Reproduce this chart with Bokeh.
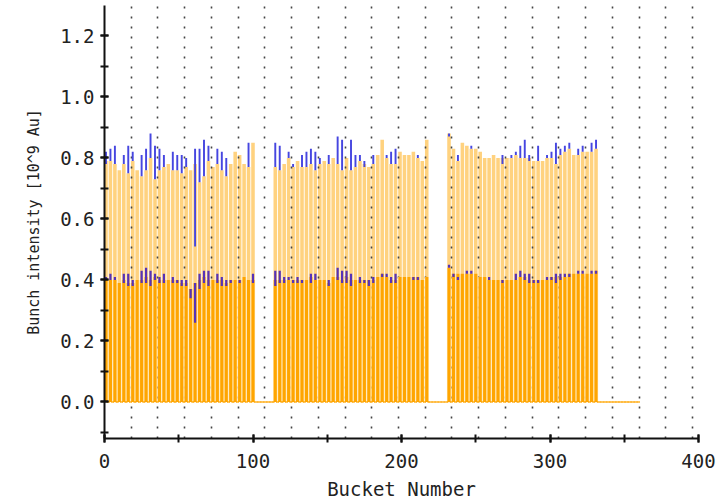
import math
from bokeh.plotting import figure
from bokeh.models import SingleIntervalTicker, PrintfTickFormatter, ColumnDataSource
from bokeh.embed import file_html
from bokeh.resources import INLINE

N_BUCKETS = 360

# bunch positions (bucket numbers) of the three trains
train1_buckets = list(range(1, 101, 3))     # 34 bunches
train2_buckets = list(range(115, 218, 3))   # 35 bunches
train3_buckets = list(range(232, 332, 3))   # 34 bunches

# ---- upper ring (light bars ~0.8) ----
upper_top_1 = [0.79, 0.79, 0.78, 0.76, 0.78, 0.75, 0.79, 0.76, 0.74, 0.76,
               0.80, 0.73, 0.76, 0.77, 0.78, 0.76, 0.76, 0.75, 0.77, 0.76,
               0.78, 0.72, 0.74, 0.79, 0.77, 0.78, 0.76, 0.74, 0.78, 0.82,
               0.81, 0.78, 0.77, 0.85]
upper_lo_1 = [0.78, 0.79, 0.78, None, 0.78, 0.75, 0.79, None, 0.74, 0.76,
              0.80, 0.73, 0.76, 0.77, None, 0.76, 0.76, 0.75, 0.77, None,
              0.51, 0.72, 0.74, 0.79, None, 0.78, 0.76, 0.74, None, None,
              None, None, 0.77, None]
upper_hi_1 = [0.82, 0.83, 0.84, None, 0.81, 0.84, 0.82, None, 0.81, 0.83,
              0.88, 0.84, 0.83, 0.81, None, 0.82, 0.81, 0.81, 0.80, None,
              0.83, 0.83, 0.86, 0.84, None, 0.83, 0.82, 0.80, None, None,
              None, None, 0.85, None]

upper_top_2 = [0.77, 0.76, 0.78, 0.80, 0.77, 0.79, 0.77, 0.77, 0.78, 0.76,
               0.78, 0.79, 0.78, 0.80, 0.78, 0.76, 0.80, 0.76, 0.77, 0.79,
               0.78, 0.77, 0.78, 0.81, 0.86, 0.80, 0.78, 0.78, 0.82, 0.81,
               0.81, 0.82, 0.80, 0.79, 0.86]
upper_lo_2 = [0.77, 0.76, None, 0.80, 0.77, None, 0.77, 0.77, 0.78, 0.76,
              0.78, None, 0.78, None, 0.78, 0.76, None, 0.76, 0.77, 0.79,
              0.77, None, 0.78, None, None, 0.80, 0.78, 0.78, None, None,
              None, None, 0.80, None, None]
upper_hi_2 = [0.85, 0.84, None, 0.82, 0.78, None, 0.81, 0.82, 0.83, 0.82,
              0.80, None, 0.81, None, 0.87, 0.86, None, 0.86, 0.81, 0.81,
              0.79, None, 0.81, None, None, 0.81, 0.82, 0.83, None, None,
              None, None, 0.81, None, None]

upper_top_3 = [0.88, 0.83, 0.79, 0.85, 0.84, 0.83, 0.83, 0.82, 0.80, 0.80,
               0.81, 0.80, 0.80, 0.80, 0.80, 0.81, 0.80, 0.80, 0.80, 0.79,
               0.79, 0.79, 0.80, 0.80, 0.78, 0.81, 0.82, 0.83, 0.81, 0.81,
               0.82, 0.82, 0.82, 0.83]
upper_lo_3 = [0.87, None, 0.79, None, None, 0.83, None, None, None, None,
              None, None, 0.78, None, 0.80, 0.81, 0.80, 0.80, 0.79, None,
              0.79, None, 0.80, 0.80, 0.78, 0.81, 0.82, 0.83, None, 0.81,
              0.82, None, 0.82, 0.83]
upper_hi_3 = [0.88, None, 0.81, None, None, 0.84, None, None, None, None,
              None, None, 0.81, None, 0.81, 0.82, 0.84, 0.86, 0.81, None,
              0.84, None, 0.81, 0.82, 0.85, 0.83, 0.84, 0.85, None, 0.83,
              0.84, None, 0.85, 0.86]

# ---- lower ring (dark bars ~0.4) ----
lower_top_1 = [0.40, 0.40, 0.40, 0.39, 0.40, 0.39, 0.39, 0.40, 0.40, 0.41,
               0.40, 0.41, 0.40, 0.40, 0.40, 0.40, 0.40, 0.39, 0.39, 0.37,
               0.39, 0.40, 0.41, 0.40, 0.40, 0.40, 0.40, 0.39, 0.40, 0.40,
               0.40, 0.41, 0.40, 0.40]
lower_lo_1 = [0.40, 0.40, 0.40, None, 0.39, 0.38, 0.38, None, 0.39, 0.39,
              0.38, 0.40, 0.39, 0.39, None, 0.39, 0.39, 0.38, 0.38, 0.34,
              0.26, 0.37, 0.39, 0.38, None, 0.39, 0.38, 0.38, 0.39, None,
              0.39, None, None, 0.39]
lower_hi_1 = [0.41, 0.42, 0.41, None, 0.42, 0.42, 0.40, None, 0.43, 0.44,
              0.43, 0.42, 0.41, 0.42, None, 0.41, 0.40, 0.40, 0.40, 0.37,
              0.39, 0.42, 0.43, 0.43, None, 0.42, 0.41, 0.40, 0.40, None,
              0.40, None, None, 0.42]

lower_top_2 = [0.40, 0.40, 0.40, 0.40, 0.40, 0.40, 0.40, 0.40, 0.41, 0.40,
               0.40, 0.40, 0.39, 0.41, 0.41, 0.40, 0.41, 0.40, 0.40, 0.40,
               0.40, 0.40, 0.40, 0.41, 0.42, 0.41, 0.40, 0.40, 0.41, 0.41,
               0.41, 0.41, 0.41, 0.40, 0.41]
lower_lo_2 = [0.38, 0.39, 0.39, 0.40, 0.39, 0.39, 0.39, None, 0.39, 0.40,
              None, None, 0.38, None, 0.40, 0.39, 0.39, 0.38, None, 0.39,
              0.39, 0.38, 0.39, None, 0.41, 0.41, 0.39, 0.39, None, None,
              None, 0.40, 0.40, None, None]
lower_hi_2 = [0.43, 0.43, 0.41, 0.41, 0.40, 0.41, 0.40, None, 0.42, 0.42,
              None, None, 0.40, None, 0.44, 0.43, 0.43, 0.42, None, 0.41,
              0.40, 0.40, 0.41, None, 0.42, 0.42, 0.41, 0.42, None, None,
              None, 0.41, 0.41, None, None]

lower_top_3 = [0.44, 0.42, 0.42, 0.42, 0.42, 0.42, 0.42, 0.41, 0.41, 0.40,
               0.40, 0.40, 0.40, 0.40, 0.40, 0.40, 0.41, 0.41, 0.40, 0.40,
               0.40, 0.40, 0.40, 0.41, 0.41, 0.41, 0.41, 0.42, 0.42, 0.42,
               0.42, 0.42, 0.42, 0.43]
lower_lo_3 = [0.44, 0.41, 0.40, None, 0.42, 0.42, None, None, None, 0.40,
              None, None, 0.39, None, None, 0.40, 0.41, 0.40, 0.39, 0.39,
              0.39, None, 0.40, 0.40, 0.39, 0.40, 0.41, 0.41, None, 0.42,
              0.42, None, 0.42, 0.42]
lower_hi_3 = [0.45, 0.42, 0.41, None, 0.43, 0.43, None, None, None, 0.41,
              None, None, 0.40, None, None, 0.42, 0.43, 0.42, 0.42, 0.40,
              0.40, None, 0.41, 0.41, 0.42, 0.42, 0.42, 0.42, None, 0.43,
              0.43, None, 0.43, 0.43]

x_ticks_interval = 100
y_ticks_interval = 0.2

LIGHT = "#FFD27F"
PALE = "#FFE2A6"
DARK = "#FFA500"
BLUE = "#4646E0"
PURPLE = "#5632B8"
FONT = "DejaVu Sans Mono"


def nz(lst):
    return [math.nan if v is None else v for v in lst]


buckets = train1_buckets + train2_buckets + train3_buckets
src = ColumnDataSource(dict(
    x=buckets,
    up_top=upper_top_1 + upper_top_2 + upper_top_3,
    up_lo=nz(upper_lo_1 + upper_lo_2 + upper_lo_3),
    up_hi=nz(upper_hi_1 + upper_hi_2 + upper_hi_3),
    lo_top=lower_top_1 + lower_top_2 + lower_top_3,
    lo_lo=nz(lower_lo_1 + lower_lo_2 + lower_lo_3),
    lo_hi=nz(lower_hi_1 + lower_hi_2 + lower_hi_3),
))

filled = set(buckets)
empty = [b for b in range(1, N_BUCKETS + 1) if b not in filled]

p = figure(frame_width=594, frame_height=433,
           x_range=(0, 400), y_range=(-0.12, 1.30),
           min_border_left=104, min_border_right=27,
           min_border_top=5, min_border_bottom=62,
           output_backend="svg", toolbar_location=None)
p.outline_line_color = None
p.background_fill_color = "white"
p.border_fill_color = "white"

# bars
p.vbar(x="x", top="up_top", width=2.4, source=src, fill_color=LIGHT,
       line_color=None, level="image")
p.vbar(x="x", bottom="up_lo", top="up_hi", width=1.3, source=src,
       fill_color=BLUE, line_color=None)
p.vbar(x="x", top="lo_top", width=2.8, source=src, fill_color=PALE,
       line_color=None)
p.vbar(x="x", top="lo_top", width=2.1, source=src, fill_color=DARK,
       line_color=None)
p.vbar(x="x", bottom="lo_lo", top="lo_hi", width=1.5, source=src,
       fill_color=PURPLE, line_color=None)
p.vbar(x=empty, top=[0] * len(empty), bottom=[0] * len(empty), width=1,
       fill_color=None, line_color=DARK, line_width=1.5)

# grid
p.ygrid.visible = False
p.xgrid.ticker = SingleIntervalTicker(interval=18)
p.xgrid.grid_line_color = "#444444"
p.xgrid.grid_line_width = 1.6
p.xgrid.grid_line_dash = "2 8"

# axes
xa = p.xaxis[0]
ya = p.yaxis[0]
xa.ticker = SingleIntervalTicker(interval=x_ticks_interval, num_minor_ticks=2)
ya.ticker = SingleIntervalTicker(interval=y_ticks_interval, num_minor_ticks=2)
ya.formatter = PrintfTickFormatter(format="%.1f")
xa.axis_label = "Bucket Number"
ya.axis_label = "Bunch intensity [10^9 Au]"
for ax in (xa, ya):
    ax.axis_line_width = 2
    ax.axis_line_color = "#111111"
    ax.major_tick_line_width = 2
    ax.minor_tick_line_width = 2
    ax.major_tick_line_color = "#111111"
    ax.minor_tick_line_color = "#111111"
    ax.major_tick_in = 4
    ax.major_tick_out = 4
    ax.minor_tick_in = 4
    ax.minor_tick_out = 4
    ax.major_label_text_font = FONT
    ax.major_label_text_font_size = "19px"
    ax.major_label_text_color = "#222222"
    ax.axis_label_text_font = FONT
    ax.axis_label_text_font_style = "normal"
    ax.axis_label_text_color = "#222222"
xa.major_label_standoff = 11
xa.axis_label_standoff = 7
xa.axis_label_text_font_size = "19px"
ya.major_label_standoff = 6
ya.axis_label_standoff = 14
ya.axis_label_text_font_size = "15px"

open("out.html", "w").write(file_html(p, INLINE))
